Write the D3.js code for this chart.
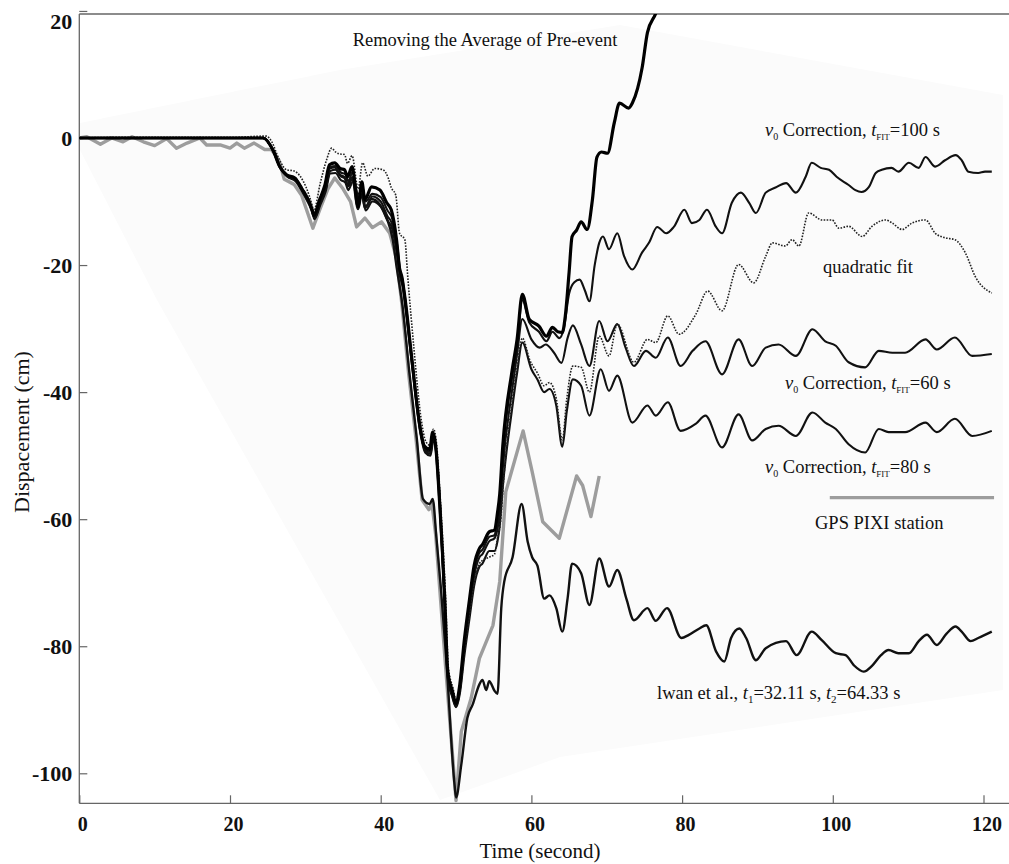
<!DOCTYPE html>
<html>
<head>
<meta charset="utf-8">
<script src="https://cdn.jsdelivr.net/npm/d3@7"></script>
<style>
  html, body { margin: 0; padding: 0; background: #fff; }
  svg { display: block; }
  text { font-family: 'Liberation Serif', 'Times New Roman', serif; fill: #111; }
</style>
</head>
<body>
<svg id="chart" width="1009" height="864"></svg>
<script>
// ---------------- DATA (time in s, displacement in cm) ----------------
const xTickValues = [0, 20, 40, 60, 80, 100, 120];
const yTickValues = [20, 0, -20, -40, -60, -80, -100];

const gpsPixi = [[0,0],[1,0.2],[2.8,-1.0],[4.3,0],[5.8,-0.6],[7.0,0.2],[8.5,-0.6],[10.0,-1.2],[11.6,-0.1],[12.9,-1.6],[14.3,-0.8],[16.0,0],[16.9,-1.1],[18.7,-1.1],[20.0,-1.6],[20.9,-0.8],[21.9,-1.6],[23.2,-0.8],[24.6,-1.8],[25.5,-1.8],[26.5,-3.5],[27.2,-6.5],[28.5,-7.3],[29.5,-9.0],[31.0,-14.2],[32.0,-11.0],[33.0,-8.0],[33.9,-6.3],[35.0,-8.0],[36.0,-10.0],[36.8,-14.0],[37.9,-12.6],[38.9,-14.1],[40.1,-13.2],[41.2,-15.0],[42.1,-19.0],[42.8,-26.0],[43.7,-37.0],[44.7,-47.5],[45.5,-57.0],[46.4,-58.5],[46.8,-57.5],[47.3,-62.5],[48.6,-83.0],[50.0,-104.3],[50.7,-93.4],[52.0,-88.2],[53.1,-81.9],[54.9,-76.7],[55.8,-69.8],[56.6,-55.7],[58.9,-46.1],[60.1,-52.5],[61.5,-60.4],[63.7,-63.0],[66.0,-53.2],[66.8,-54.7],[67.9,-59.6],[69.0,-53.2]];

const preEventAverage = [[0,0],[5,0],[10,0],[15,0],[20,0],[24.4,0],[25.7,-1.9],[26.6,-4.5],[27.5,-5.8],[28.6,-6.3],[29.5,-7.9],[30.9,-11.3],[31.1,-12.2],[31.9,-9.7],[32.6,-7.4],[33.2,-4.2],[33.9,-3.9],[34.6,-4.8],[35.2,-5.0],[35.6,-6.1],[36.2,-4.5],[37.0,-10.8],[37.5,-6.9],[37.9,-9.7],[38.8,-7.7],[39.9,-8.2],[40.8,-10.2],[41.4,-11.3],[42.1,-16.0],[42.5,-20.5],[42.8,-21.8],[43.2,-25.0],[44.1,-34.4],[45.2,-45.3],[45.8,-48.5],[46.5,-49.0],[46.9,-46.3],[47.3,-48.5],[47.8,-57.0],[48.5,-72.5],[48.9,-84.0],[49.5,-87.0],[50.0,-89.0],[50.5,-86.0],[51.1,-79.0],[51.8,-72.5],[52.4,-67.3],[53.1,-64.6],[53.5,-64.0],[54.4,-62.0],[55.1,-61.7],[55.5,-59.0],[55.8,-56.0],[56.2,-48.5],[57.4,-36.9],[58.1,-31.7],[58.8,-24.6],[59.7,-28.5],[61.0,-29.6],[62.0,-31.2],[62.8,-29.8],[63.5,-30.5],[64.1,-30.6],[64.5,-28.0],[65.0,-21.2],[65.4,-15.5],[66.0,-14.5],[66.6,-13.2],[67.4,-14.4],[68.1,-9.7],[68.7,-3.0],[69.3,-2.2],[70.1,-2.4],[71.0,2.4],[71.7,5.5],[72.9,4.7],[73.4,5.5],[74.7,11.1],[75.4,16.6],[76.5,19.6],[77.3,22.5]];

const v0Fit100 = [[0,0],[5,0],[10,0],[15,0],[20,0],[24.4,0],[25.8,-2.2],[26.7,-4.8],[27.6,-6.0],[28.7,-6.6],[29.6,-8.2],[31.0,-11.6],[31.2,-12.4],[32.0,-9.9],[32.7,-7.6],[33.3,-4.6],[34.0,-4.4],[34.7,-5.4],[35.3,-5.7],[35.7,-6.8],[36.3,-5.3],[37.0,-9.4],[37.6,-7.8],[38.0,-10.0],[38.9,-8.8],[40.0,-9.3],[40.9,-11.4],[41.5,-12.6],[42.2,-17.0],[42.6,-21.0],[42.9,-22.3],[43.3,-25.8],[44.2,-35.3],[45.3,-46.0],[45.9,-48.9],[46.5,-49.4],[46.9,-46.8],[47.3,-49.0],[47.8,-57.6],[48.5,-73.2],[48.9,-84.5],[49.5,-87.6],[50.0,-89.4],[50.5,-86.6],[51.1,-79.8],[51.8,-73.3],[52.4,-68.0],[53.1,-65.3],[53.5,-64.8],[54.4,-62.8],[55.1,-62.5],[55.5,-59.9],[55.8,-57.0],[56.2,-49.6],[57.4,-38.0],[58.1,-32.6],[58.8,-25.5],[59.7,-29.0],[61.0,-30.5],[62.0,-32.0],[62.8,-30.5],[63.7,-31.5],[64.3,-30.0],[65.0,-24.5],[65.7,-22.7],[66.4,-22.3],[67.1,-24.0],[67.7,-25.7],[68.4,-20.0],[69.0,-16.5],[69.5,-15.5],[70.3,-17.5],[71.4,-15.0],[72.3,-18.6],[73.4,-20.7],[74.7,-18.0],[75.6,-16.5],[76.7,-14.0],[77.9,-15.0],[78.9,-14.0],[80.3,-11.3],[81.3,-13.4],[82.3,-12.9],[83.3,-11.3],[84.5,-14.0],[85.3,-15.0],[86.6,-10.2],[87.8,-8.6],[88.9,-10.2],[89.8,-11.8],[91.1,-8.6],[92.4,-7.8],[93.8,-7.1],[95.1,-8.6],[96.4,-6.1],[97.2,-3.9],[98.4,-4.7],[99.5,-5.0],[100.5,-6.1],[102.1,-7.4],[103.0,-8.2],[103.8,-8.5],[104.8,-7.7],[105.7,-5.5],[106.5,-5.0],[107.8,-4.7],[108.7,-5.3],[110.1,-3.9],[111.4,-4.7],[112.3,-3.0],[113.6,-4.5],[114.9,-3.5],[116.3,-2.7],[117.1,-3.5],[118.0,-5.3],[119.3,-5.5],[120.2,-5.3],[121.1,-5.3]];

const v0Fit60 = [[0,0],[5,0],[10,0],[15,0],[20,0],[24.4,0],[25.8,-2.1],[26.7,-4.7],[27.6,-6.0],[28.7,-6.6],[29.6,-8.3],[31.0,-11.8],[31.2,-12.6],[32.0,-10.2],[32.7,-8.0],[33.3,-5.2],[34.0,-5.0],[34.7,-6.0],[35.3,-6.4],[35.7,-7.6],[36.3,-6.2],[37.0,-8.8],[37.5,-8.3],[38.0,-10.8],[38.9,-9.2],[40.0,-10.0],[40.9,-12.3],[41.5,-13.5],[42.2,-18.0],[42.6,-21.6],[42.9,-22.8],[43.3,-26.3],[44.2,-35.8],[45.3,-46.4],[45.9,-49.2],[46.6,-49.7],[47.0,-47.2],[47.4,-49.4],[47.9,-58.0],[48.5,-73.5],[48.9,-84.8],[49.5,-87.8],[50.0,-89.5],[50.5,-87.0],[51.1,-80.5],[51.8,-74.0],[52.4,-69.0],[53.1,-66.0],[53.5,-65.5],[54.4,-63.5],[55.1,-63.0],[55.5,-61.5],[55.8,-59.0],[56.2,-52.0],[57.4,-40.0],[58.1,-34.0],[58.8,-28.5],[60.0,-31.7],[61.1,-33.0],[61.9,-32.5],[63.0,-33.8],[64.0,-35.4],[64.8,-31.5],[65.5,-29.5],[66.6,-32.5],[67.7,-35.9],[69.0,-28.8],[70.1,-32.0],[71.4,-29.3],[72.5,-33.0],[73.6,-35.9],[75.2,-33.5],[76.5,-34.6],[78.1,-31.4],[79.8,-35.9],[81.4,-33.5],[83.1,-32.0],[85.3,-37.2],[87.5,-31.7],[89.3,-35.9],[91.1,-33.0],[92.8,-32.5],[95.1,-34.3],[97.3,-30.1],[99.0,-32.0],[100.4,-32.7],[102.1,-35.3],[104.3,-36.1],[106.1,-33.5],[107.9,-33.8],[109.6,-33.8],[112.3,-31.7],[113.8,-33.3],[116.2,-31.4],[118.5,-34.3],[121.1,-34.0]];

const v0Fit80 = [[0,0],[5,0],[10,0],[15,0],[20,0],[24.4,0],[25.8,-2.2],[26.7,-4.8],[27.6,-6.1],[28.7,-6.8],[29.6,-8.5],[31.0,-12.0],[31.2,-12.8],[32.0,-10.5],[32.7,-8.4],[33.3,-5.6],[34.0,-5.5],[34.7,-6.6],[35.3,-7.0],[35.7,-8.2],[36.3,-6.9],[37.0,-9.6],[37.5,-9.0],[38.0,-11.4],[38.9,-10.0],[40.0,-10.8],[40.9,-13.0],[41.5,-14.2],[42.2,-18.6],[42.6,-22.0],[42.9,-23.3],[43.3,-26.8],[44.2,-36.2],[45.3,-46.7],[45.9,-49.5],[46.6,-50.0],[47.0,-47.6],[47.4,-49.8],[47.9,-58.4],[48.5,-73.8],[48.9,-85.0],[49.5,-88.0],[50.0,-89.6],[50.5,-87.5],[51.1,-81.5],[51.8,-75.5],[52.4,-70.5],[53.1,-67.5],[53.5,-67.0],[54.4,-65.0],[55.1,-65.0],[55.5,-63.5],[55.8,-61.0],[56.2,-55.0],[57.4,-43.0],[58.1,-37.0],[58.8,-32.2],[60.0,-36.4],[60.8,-38.0],[61.7,-40.0],[62.4,-39.5],[63.3,-42.1],[64.1,-48.6],[64.7,-43.0],[65.5,-38.0],[66.6,-39.0],[67.7,-43.7],[69.2,-36.4],[70.3,-39.8],[71.4,-37.4],[73.4,-44.8],[75.4,-42.1],[76.5,-43.7],[78.1,-41.6],[79.8,-46.1],[81.8,-45.0],[83.1,-43.7],[85.3,-48.7],[87.5,-43.5],[89.3,-47.6],[91.1,-45.8],[92.8,-45.3],[95.1,-46.9],[97.3,-43.2],[99.0,-44.8],[100.4,-45.8],[102.1,-48.2],[104.3,-49.5],[106.1,-45.8],[107.4,-46.3],[109.6,-46.3],[112.3,-44.8],[113.8,-46.3],[116.2,-44.2],[118.5,-46.9],[121.1,-46.1]];

const quadraticFit = [[0,0],[5,0.1],[10,0.1],[15,0.1],[20,0.1],[24.8,0.3],[25.5,-0.5],[26.5,-3.3],[27.5,-5.0],[28.5,-5.2],[29.3,-6.0],[30.9,-10.6],[31.1,-11.5],[32.0,-7.0],[32.8,-3.5],[33.5,-1.6],[34.0,-2.2],[34.5,-2.5],[35.2,-2.6],[35.6,-4.0],[36.2,-2.8],[37.0,-8.0],[37.6,-3.9],[38.3,-6.0],[39.2,-4.8],[40.3,-5.0],[41.0,-6.3],[41.4,-7.8],[42.0,-9.0],[42.5,-15.0],[43.2,-16.0],[43.6,-22.0],[44.4,-33.0],[45.4,-44.5],[46.0,-47.8],[46.6,-48.4],[47.0,-45.8],[47.4,-48.0],[47.9,-56.5],[48.6,-72.0],[49.0,-83.5],[49.6,-86.6],[50.1,-89.0],[50.6,-86.5],[51.2,-80.0],[51.9,-74.0],[52.5,-69.5],[53.1,-67.0],[53.5,-66.5],[54.4,-66.0],[55.1,-65.5],[55.5,-63.0],[55.9,-60.5],[56.3,-54.0],[57.4,-42.0],[58.1,-36.0],[58.8,-31.5],[59.8,-35.0],[60.8,-37.0],[61.7,-39.0],[62.4,-38.5],[63.3,-41.0],[64.1,-47.5],[64.7,-41.0],[65.5,-35.9],[66.6,-36.1],[67.7,-40.0],[69.0,-31.2],[70.3,-34.3],[71.4,-29.3],[73.6,-35.3],[75.4,-31.7],[76.5,-32.2],[78.1,-28.0],[79.6,-30.9],[81.8,-27.8],[83.4,-24.1],[85.3,-27.2],[87.5,-19.9],[89.5,-22.8],[91.1,-18.6],[92.0,-16.5],[93.7,-17.0],[94.6,-16.0],[95.5,-17.0],[96.8,-11.8],[98.6,-12.9],[99.9,-12.9],[100.8,-14.2],[102.1,-13.9],[103.9,-15.5],[105.2,-13.9],[107.0,-12.9],[107.9,-13.4],[109.2,-14.4],[110.5,-13.4],[112.3,-12.9],[113.6,-15.0],[114.9,-15.7],[116.2,-16.0],[117.6,-18.1],[118.9,-21.8],[121.1,-24.4]];

const iwanEtAl = [[0,0],[5,0],[10,0],[15,0],[20,0],[24.4,0],[25.7,-1.9],[26.6,-4.5],[27.5,-5.8],[28.6,-6.3],[29.5,-7.9],[30.9,-11.3],[31.1,-12.2],[31.9,-9.7],[32.6,-7.6],[33.2,-4.8],[33.9,-4.6],[34.6,-5.8],[35.2,-6.2],[35.6,-7.4],[36.2,-6.2],[37.0,-11.2],[37.5,-8.8],[37.9,-11.0],[38.8,-9.6],[39.9,-10.5],[40.8,-12.6],[41.6,-16.0],[42.1,-20.2],[42.9,-26.5],[43.8,-36.9],[44.8,-47.4],[45.6,-56.8],[46.5,-57.6],[46.9,-56.8],[47.4,-63.0],[48.0,-71.0],[48.7,-82.0],[49.8,-101.8],[50.0,-103.8],[50.7,-98.6],[51.5,-91.3],[52.2,-89.2],[53.1,-86.0],[53.5,-85.3],[54.0,-86.9],[54.4,-85.5],[55.1,-87.0],[55.5,-87.5],[56.0,-74.0],[56.4,-69.8],[57.5,-66.0],[58.7,-57.6],[59.5,-63.5],[60.1,-66.0],[60.8,-67.3],[61.7,-72.5],[62.4,-72.0],[63.3,-74.0],[64.1,-77.7],[64.8,-72.5],[65.4,-67.0],[66.6,-68.5],[67.7,-73.5],[69.0,-66.2],[70.3,-70.6],[71.4,-68.0],[72.6,-72.5],[73.6,-75.9],[75.4,-74.0],[76.5,-76.0],[78.0,-74.0],[79.9,-78.7],[80.9,-78.2],[82.3,-77.2],[83.2,-76.7],[84.5,-80.8],[85.6,-82.4],[86.5,-78.7],[87.6,-77.2],[88.5,-78.7],[89.8,-82.2],[91.1,-80.3],[93.8,-79.2],[95.2,-81.4],[97.2,-77.7],[98.5,-79.0],[100.4,-81.1],[101.7,-81.4],[102.8,-83.0],[104.1,-84.0],[105.2,-83.1],[106.4,-81.4],[107.4,-80.6],[108.7,-81.1],[110.1,-81.1],[111.4,-79.2],[112.5,-78.2],[113.8,-79.8],[115.1,-78.0],[116.3,-76.9],[117.1,-77.7],[118.3,-79.2],[119.3,-78.7],[121.1,-77.7]];

// ---------------- LAYOUT ----------------
const svg = d3.select('#chart');
const W = 1009, H = 864;
const plotLeft = 79.3, plotRight = 1009, plotTop = 14, plotBottom = 803.3;

const x = d3.scaleLinear().domain([0, 120]).range([plotLeft, 983.5]);
const y = d3.scaleLinear().domain([-100, 0]).range([773.3, 138]);

svg.append('rect').attr('width', W).attr('height', H).attr('fill', '#fff');

// faint photographed-page tint
svg.append('polygon')
  .attr('points', [[80,123],[340,70],[620,25],[1003,95],[1003,690],[560,757],[440,800],[157,300],[80,150]].map(p => p.join(',')).join(' '))
  .attr('fill', '#fbfbfb');

svg.append('defs').append('clipPath').attr('id', 'plotClip')
  .append('rect').attr('x', plotLeft).attr('y', plotTop).attr('width', plotRight - plotLeft).attr('height', plotBottom - plotTop);

// frame
const frame = svg.append('g').attr('stroke', '#666').attr('stroke-width', 1.3).attr('fill', 'none');
frame.append('line').attr('x1', plotLeft).attr('x2', plotRight).attr('y1', plotTop).attr('y2', plotTop);
frame.append('line').attr('x1', plotLeft).attr('x2', plotLeft).attr('y1', plotTop).attr('y2', plotBottom);
frame.append('line').attr('x1', plotLeft).attr('x2', plotRight).attr('y1', plotBottom).attr('y2', plotBottom);

// axes
const yAxis = d3.axisLeft(y).tickValues(yTickValues).tickSizeInner(-8).tickSizeOuter(0).tickPadding(7).tickFormat(d => String(d));
const gy = svg.append('g').attr('transform', `translate(${plotLeft},0)`).call(yAxis);
gy.select('.domain').remove();
gy.selectAll('.tick line').attr('stroke', '#666').attr('stroke-width', 1.2);
gy.selectAll('.tick text').style('font-size', '22px').style('font-weight', 'bold').attr('fill', '#111')
  .attr('dy', d => d === 20 ? '0.78em' : '0.32em');

const xAxis = d3.axisBottom(x).tickValues(xTickValues).tickSizeInner(-8).tickSizeOuter(0).tickPadding(14).tickFormat(d => String(d));
const gx = svg.append('g').attr('transform', `translate(0,${plotBottom})`).call(xAxis);
gx.select('.domain').remove();
gx.selectAll('.tick line').attr('stroke', '#666').attr('stroke-width', 1.2);
gx.selectAll('.tick text').style('font-size', '20px').style('font-weight', 'bold').attr('fill', '#111').attr('dx', 3);

svg.append('text').attr('x', 540).attr('y', 858).attr('text-anchor', 'middle')
  .style('font-size', '21px').text('Time (second)');
svg.append('text').attr('transform', 'translate(29,432) rotate(-90)').attr('text-anchor', 'middle')
  .style('font-size', '22px').text('Dispacement (cm)');

// ---------------- LINES ----------------
const plot = svg.append('g').attr('clip-path', 'url(#plotClip)');
const lineSmooth = d3.line().x(d => x(d[0])).y(d => y(d[1])).curve(d3.curveMonotoneX);
const lineStraight = d3.line().x(d => x(d[0])).y(d => y(d[1]));

plot.append('path').datum(gpsPixi).attr('d', lineStraight)
  .attr('fill', 'none').attr('stroke', '#9d9d9d').attr('stroke-width', 3.4).attr('stroke-linejoin', 'round');

plot.append('path').datum(iwanEtAl).attr('d', lineSmooth)
  .attr('fill', 'none').attr('stroke', '#111').attr('stroke-width', 2.4).attr('stroke-linejoin', 'round');
plot.append('path').datum(v0Fit80).attr('d', lineSmooth)
  .attr('fill', 'none').attr('stroke', '#111').attr('stroke-width', 2.1).attr('stroke-linejoin', 'round');
plot.append('path').datum(v0Fit60).attr('d', lineSmooth)
  .attr('fill', 'none').attr('stroke', '#111').attr('stroke-width', 2.1).attr('stroke-linejoin', 'round');
plot.append('path').datum(v0Fit100).attr('d', lineSmooth)
  .attr('fill', 'none').attr('stroke', '#111').attr('stroke-width', 2.1).attr('stroke-linejoin', 'round');
plot.append('path').datum(quadraticFit).attr('d', lineSmooth)
  .attr('fill', 'none').attr('stroke', '#222').attr('stroke-width', 1.6).attr('stroke-dasharray', '1.6,1.4');
plot.append('path').datum(preEventAverage).attr('d', lineSmooth)
  .attr('fill', 'none').attr('stroke', '#000').attr('stroke-width', 3.2).attr('stroke-linejoin', 'round');

// legend line for GPS
svg.append('line').attr('x1', x(99.6)).attr('x2', x(121.4)).attr('y1', y(-56.6)).attr('y2', y(-56.6))
  .attr('stroke', '#9d9d9d').attr('stroke-width', 3.4);

// ---------------- ANNOTATIONS ----------------
const ann = svg.append('g').style('font-size', '18.5px');
ann.append('text').attr('x', 485).attr('y', 46).attr('text-anchor', 'middle').text('Removing the Average of Pre-event');

function v0Label(xp, yp, fitVal) {
  const t = ann.append('text').attr('x', xp).attr('y', yp);
  t.append('tspan').style('font-style', 'italic').text('v');
  t.append('tspan').attr('dy', 4).style('font-size', '10px').text('0');
  t.append('tspan').attr('dy', -4).text(' Correction, ');
  t.append('tspan').style('font-style', 'italic').text('t');
  t.append('tspan').attr('dy', 4).style('font-size', '9px').text('FIT');
  t.append('tspan').attr('dy', -4).text('=' + fitVal + ' s');
}
v0Label(765, 136, 100);
v0Label(785, 389, 60);
v0Label(765, 473, 80);

ann.append('text').attr('x', 823).attr('y', 273).text('quadratic fit');
ann.append('text').attr('x', 815).attr('y', 529).text('GPS PIXI station');

const iw = ann.append('text').attr('x', 657).attr('y', 699);
iw.append('tspan').text('lwan et al., ');
iw.append('tspan').style('font-style', 'italic').text('t');
iw.append('tspan').attr('dy', 4).style('font-size', '11px').text('1');
iw.append('tspan').attr('dy', -4).text('=32.11 s, ');
iw.append('tspan').style('font-style', 'italic').text('t');
iw.append('tspan').attr('dy', 4).style('font-size', '11px').text('2');
iw.append('tspan').attr('dy', -4).text('=64.33 s');
</script>
</body>
</html>
